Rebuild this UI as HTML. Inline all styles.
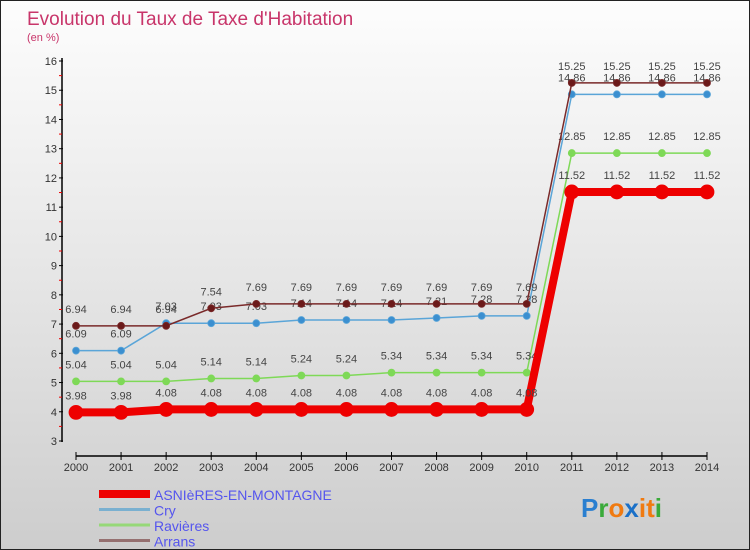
<!DOCTYPE html>
<html><head><meta charset="utf-8"><style>
body{margin:0}
#c{width:750px;height:550px;position:relative;overflow:hidden;background:linear-gradient(#fdfdfd,#e6e6e6 50%,#cdcdcd);box-sizing:border-box;border:1px solid #222;font-family:"Liberation Sans",sans-serif}
</style></head><body>
<div id="c">
<svg id="s" width="750" height="550" style="position:absolute;left:0;top:0">
<text x="26" y="24" font-size="19" fill="#c8356a">Evolution du Taux de Taxe d'Habitation</text>
<text x="26" y="40" font-size="11" fill="#c8356a">(en %)</text>
</svg>
</div>
<script>
const years=[2000,2001,2002,2003,2004,2005,2006,2007,2008,2009,2010,2011,2012,2013,2014];
const asnieres=[3.98,3.98,4.08,4.08,4.08,4.08,4.08,4.08,4.08,4.08,4.08,11.52,11.52,11.52,11.52];
const cry=[6.09,6.09,7.03,7.03,7.03,7.14,7.14,7.14,7.21,7.28,7.28,14.86,14.86,14.86,14.86];
const ravieres=[5.04,5.04,5.04,5.14,5.14,5.24,5.24,5.34,5.34,5.34,5.34,12.85,12.85,12.85,12.85];
const arrans=[6.94,6.94,6.94,7.54,7.69,7.69,7.69,7.69,7.69,7.69,7.69,15.25,15.25,15.25,15.25];
const yTicks=[3,4,5,6,7,8,9,10,11,12,13,14,15,16];
const svg=document.getElementById('s');const NS='http://www.w3.org/2000/svg';
function X(i){return 75+i*(706-75)/(years.length-1);}
function Y(v){return 440-(v-3)*(380/13);}
function mk(t,a,p){const e=document.createElementNS(NS,t);for(const k in a)e.setAttribute(k,a[k]);(p||svg).appendChild(e);return e;}
// axes
let ax=mk('line',{x1:61,y1:57,x2:61,y2:441,stroke:'#000','stroke-width':1.5});


let xa=mk('line',{x1:75,y1:455,x2:706,y2:455,stroke:'#000','stroke-width':1.5});


yTicks.forEach(v=>{
 mk('line',{x1:58,y1:Y(v),x2:62,y2:Y(v),stroke:'#000'});
 if(v<16)mk('line',{x1:58,y1:Y(v+0.5),x2:61,y2:Y(v+0.5),stroke:'#e00'});
 const t=mk('text',{x:56,y:Y(v)+4,'font-size':11,fill:'#333','text-anchor':'end'});t.textContent=v;
 
 
});
years.forEach((yr,i)=>{
 mk('line',{x1:X(i),y1:451,x2:X(i),y2:459,stroke:'#000'});
 const t=mk('text',{x:X(i),y:470,'font-size':11,fill:'#333','text-anchor':'middle'});t.textContent=yr;
 
 
});
function series(data,color,dot,w,r,name){
 const g=mk('g',{});
 
 
 mk('polyline',{points:data.map((v,i)=>X(i)+','+Y(v)).join(' '),fill:'none',stroke:color,'stroke-width':w},g);
 data.forEach((v,i)=>{
  const c=mk('circle',{cx:X(i),cy:Y(v),r:r,fill:dot,stroke:color,'stroke-width':0.8},g);
  
  
  const t=mk('text',{x:X(i),y:Y(v)-13,'font-size':11,fill:'#444','text-anchor':'middle'},g);t.textContent=v.toFixed(2).replace(/0$/,'').replace(/\.0$/,'')==''?v:v.toFixed(2);
  
  
 });
}
series(ravieres,'#7ed957','#7ed957',1.5,3.5,'ravieres');
series(cry,'#5aa5d8','#3b8fd0',1.5,3.5,'cry');
series(arrans,'#7a2a2a','#6b1a1a',1.5,3.5,'arrans');
series(asnieres,'#ee0000','#ee0000',8,7,'asnieres');
// legend
const leg=[['ASNIèRES-EN-MONTAGNE','#ee0000',8],['Cry','#7ab0d0',3],['Ravières','#96d878',3],['Arrans','#957070',3]];
leg.forEach((l,i)=>{
 const y=493+i*15.5;
 const g=mk('g',{});
 
 
 mk('line',{x1:98,y1:y,x2:149,y2:y,stroke:l[1],'stroke-width':l[2]},g);
 const t=mk('text',{x:153,y:y+6,'font-size':14,fill:'#5555ee'},g);t.textContent=l[0];
});
const lg=mk('text',{x:580,y:516,'font-size':26,'font-weight':'bold'});


[['P','#2a7fd0'],['r','#3aaa3a'],['o','#f07a10'],['x','#1a70c8'],['i','#f07a10'],['t','#f07a10'],['i','#3aaa3a']].forEach(p=>{const s=mk('tspan',{fill:p[1]},lg);s.textContent=p[0];});
</script>
</body></html>
